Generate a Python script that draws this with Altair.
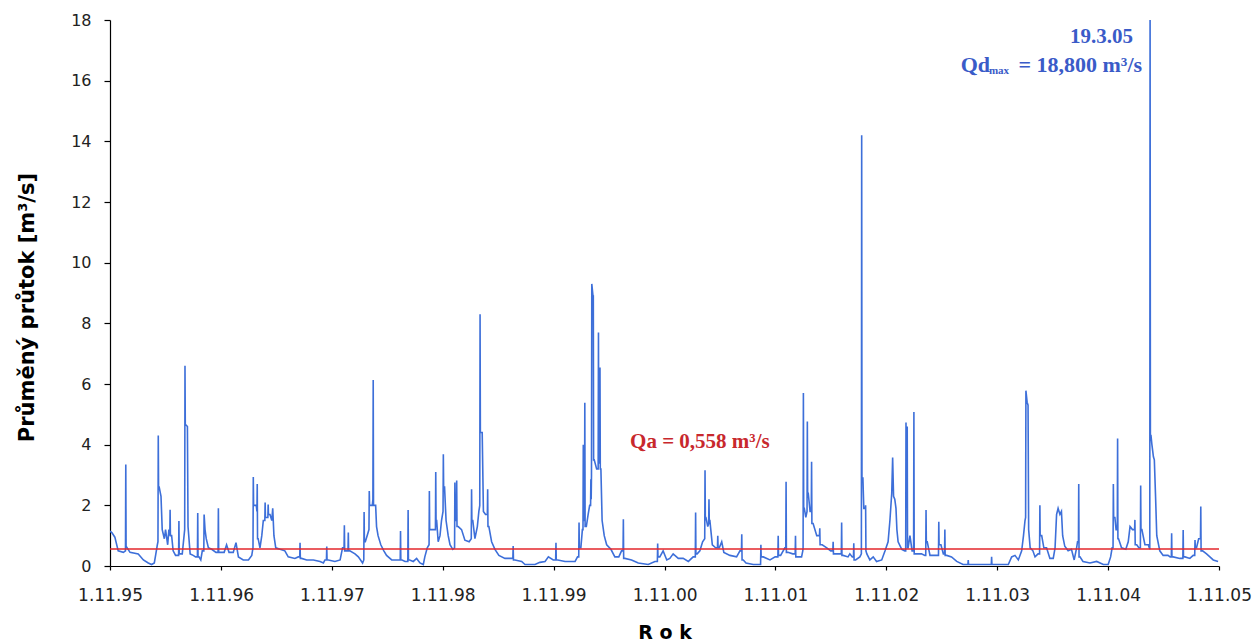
import altair as alt
import pandas as pd

START = pd.Timestamp("1995-11-01")

# (day since 1.11.1995, daily mean flow m3/s), per hydrological year
hy1996 = [(0,1.15),(6,1.1),(16,0.95),(27,0.5),(44,0.45),(51,0.5),(52,3.35),(53,0.65),(66,0.45),(93,0.4),(110,0.2),(126,0.1),(137,0.05),(146,0.1),(151,0.4),(156,0.7),(158,0.8),(159,4.3),(160,2.6),(162,2.6),(168,2.3),(172,1.2),(179,0.9),(183,1.2),(190,0.7),(194,1.2),(197,1.0),(198,1.85),(199,1.0),(203,1.0),(208,0.5),(216,0.35),(226,0.35),(227,1.48),(228,0.4),(232,0.4),(238,0.4),(244,1.0),(246,1.2),(247,6.6),(248,4.67),(255,4.6),(257,1.3),(264,0.4),(274,0.35),(282,0.3),(288,0.3),(289,1.75),(290,0.3),(293,0.3),(299,0.2),(304,0.5),(309,0.5),(310,1.7),(313,1.2),(317,0.9),(324,0.6),(335,0.55),(349,0.45),(356,0.45),(357,1.9),(358,0.45),(362,0.45)]
hy1997 = [(376,0.45),(384,0.7),(392,0.45),(406,0.45),(415,0.77),(423,0.3),(439,0.2),(456,0.2),(467,0.35),(471,0.6),(472,2.93),(473,2.0),(478,2.0),(482,2.0),(484,1.8),(485,2.7),(486,0.9),(488,0.9),(494,0.6),(500,1.0),(505,1.5),(510,1.5),(511,2.09),(512,1.6),(516,1.6),(520,1.6),(521,2.03),(522,1.7),(527,1.7),(533,1.5),(536,1.9),(540,1.0),(546,0.6),(560,0.55),(576,0.5),(587,0.3),(609,0.25),(620,0.3),(625,0.3),(626,0.77),(627,0.25),(631,0.25),(648,0.2),(670,0.2),(692,0.15),(703,0.1),(708,0.2),(713,0.2),(714,0.64),(715,0.2),(719,0.2)]
hy1998 = [(741,0.15),(758,0.2),(766,0.6),(771,0.6),(772,1.34),(773,0.5),(776,0.5),(784,0.5),(785,1.1),(786,0.5),(790,0.5),(807,0.4),(818,0.3),(832,0.1),(836,0.2),(837,1.78),(838,0.8),(841,0.8),(847,1.0),(853,1.2),(854,2.47),(855,2.0),(860,2.0),(864,2.0),(866,2.2),(867,6.13),(868,2.0),(870,2.0),(875,2.0),(878,1.3),(883,1.0),(892,0.7),(902,0.5),(911,0.35),(928,0.2),(944,0.2),(953,0.2),(956,0.2),(957,1.15),(958,0.2),(962,0.2),(972,0.15),(981,0.15),(982,1.85),(983,0.2),(987,0.2),(999,0.15),(1010,0.25),(1021,0.1),(1032,0.05),(1037,0.3),(1045,0.6),(1051,0.7),(1052,2.47),(1053,1.2),(1056,1.2),(1065,1.2),(1072,1.2),(1073,3.1),(1074,1.5),(1076,1.5),(1081,0.8),(1087,1.0),(1092,1.5)]
hy1999 = [(1097,1.8),(1098,3.68),(1099,2.6),(1102,2.6),(1107,1.5),(1114,1.0),(1120,0.7),(1129,0.55),(1135,0.6),(1136,2.75),(1137,1.5),(1139,1.5),(1141,1.5),(1142,2.82),(1143,1.3),(1147,1.3),(1158,1.2),(1169,0.85),(1183,0.8),(1190,0.9),(1191,2.53),(1192,1.5),(1195,1.5),(1202,0.9),(1210,1.3),(1215,1.8),(1218,2.0),(1219,8.3),(1220,4.4),(1226,4.4),(1230,1.8),(1237,1.7),(1243,1.7),(1244,2.53),(1245,1.3),(1248,1.3),(1257,0.8),(1268,0.55),(1281,0.35),(1301,0.25),(1321,0.25),(1327,0.25),(1328,0.66),(1329,0.2),(1334,0.2),(1356,0.15),(1367,0.05),(1400,0.05),(1416,0.12),(1433,0.15),(1444,0.3),(1460,0.2)]
hy2000 = [(1468,0.2),(1469,0.77),(1470,0.2),(1475,0.2),(1499,0.15),(1532,0.15),(1540,0.3),(1544,0.3),(1545,1.43),(1546,0.6),(1551,0.6),(1556,1.2),(1558,1.2),(1559,4.0),(1560,1.5),(1563,1.5),(1564,5.38),(1565,1.3),(1569,1.3),(1575,1.7),(1580,2.0),(1583,2.0),(1584,2.86),(1585,2.2),(1586,3.0),(1587,9.3),(1591,8.9),(1592,8.9),(1593,3.5),(1595,3.5),(1603,3.2),(1608,3.2),(1609,7.7),(1610,3.4),(1611,3.4),(1613,3.4),(1614,6.54),(1615,3.2),(1617,3.2),(1621,1.5),(1628,1.0),(1636,0.7),(1650,0.55),(1663,0.3),(1676,0.3),(1685,0.5),(1690,0.5),(1691,1.54),(1692,0.25),(1696,0.25),(1718,0.2),(1740,0.1),(1773,0.05),(1795,0.15),(1803,0.15),(1804,0.74),(1805,0.3),(1811,0.3),(1822,0.5)]
hy2001 = [(1834,0.2),(1844,0.25),(1855,0.4),(1872,0.25),(1888,0.25),(1905,0.15),(1921,0.3),(1928,0.3),(1929,1.76),(1930,0.4),(1934,0.4),(1943,0.5),(1952,0.8),(1959,0.9),(1960,3.16),(1961,1.6),(1963,1.6),(1969,1.3),(1972,1.4),(1973,2.2),(1974,1.5),(1976,1.5),(1979,1.2),(1984,0.7),(1995,0.6),(2001,0.6),(2002,1.0),(2003,0.6),(2007,0.6),(2015,0.8),(2022,0.45),(2042,0.35),(2064,0.3),(2075,0.5),(2080,0.5),(2081,1.05),(2082,0.2),(2086,0.2),(2095,0.1),(2119,0.05),(2139,0.05),(2143,0.05),(2144,0.7),(2145,0.3),(2152,0.3),(2174,0.2),(2191,0.3)]
hy2002 = [(2196,0.3),(2200,0.3),(2201,1.0),(2202,0.35),(2209,0.35),(2223,0.6),(2226,0.6),(2227,2.78),(2228,0.45),(2233,0.45),(2249,0.4),(2257,0.4),(2258,1.0),(2259,0.3),(2264,0.3),(2278,0.3),(2282,0.5),(2283,0.6),(2284,5.7),(2285,1.9),(2287,1.9),(2292,1.6),(2296,1.8),(2297,4.76),(2298,2.4),(2300,2.4),(2306,1.8),(2310,1.8),(2311,3.44),(2312,1.4),(2316,1.4),(2328,1.0),(2337,1.0),(2338,1.24),(2339,0.7),(2346,0.7),(2361,0.6),(2374,0.5),(2381,0.5),(2382,0.8),(2383,0.4),(2388,0.4),(2404,0.4),(2409,0.4),(2410,1.43),(2411,0.35),(2415,0.35),(2431,0.3),(2437,0.4),(2445,0.3),(2449,0.3),(2450,0.75),(2451,0.2),(2456,0.2),(2470,0.3),(2475,0.4),(2476,14.2),(2477,2.9),(2480,2.9),(2483,1.9),(2488,1.9),(2489,2.0),(2490,0.5),(2493,0.4),(2503,0.2),(2514,0.3),(2525,0.15),(2542,0.2),(2553,0.5)]
hy2003 = [(2563,0.8),(2569,1.5),(2575,2.4),(2578,3.58),(2581,2.3),(2585,2.2),(2589,1.9),(2592,1.2),(2596,0.8),(2608,0.55),(2618,0.5),(2621,0.5),(2622,4.73),(2623,2.0),(2625,2.0),(2626,4.6),(2627,0.6),(2629,0.6),(2635,1.0),(2642,0.5),(2647,0.5),(2648,5.08),(2649,0.4),(2652,0.4),(2673,0.4),(2684,0.35),(2687,0.35),(2688,1.85),(2689,0.8),(2692,0.8),(2701,0.35),(2723,0.35),(2729,0.35),(2730,1.46),(2731,0.7),(2737,0.7),(2745,0.4),(2749,0.4),(2750,1.2),(2751,0.35),(2756,0.35),(2772,0.3),(2789,0.15),(2810,0.05),(2826,0.05),(2827,0.2),(2828,0.05),(2833,0.05),(2860,0.05),(2898,0.05),(2903,0.05),(2904,0.3),(2905,0.05),(2909,0.05)]
hy2004 = [(2959,0.05),(2970,0.3),(2981,0.35),(2992,0.2),(3003,0.5),(3009,1.0),(3014,1.5),(3016,1.6),(3017,5.78),(3021,5.4),(3024,5.3),(3026,1.2),(3031,0.6),(3040,0.5),(3047,0.3),(3057,0.4),(3062,0.4),(3063,2.0),(3064,1.0),(3069,1.0),(3076,0.6),(3085,0.6),(3096,0.25),(3107,0.25),(3113,0.6),(3118,1.7),(3123,1.9),(3129,1.7),(3134,1.8),(3138,1.0),(3145,0.65),(3156,0.5),(3167,0.55),(3176,0.2),(3184,0.6),(3187,0.8),(3190,0.8),(3191,2.7),(3192,0.3),(3195,0.3),(3205,0.15),(3228,0.1),(3250,0.15),(3272,0.05),(3288,0.05)]
hy2005 = [(3296,0.3),(3301,0.6),(3304,0.6),(3305,2.7),(3306,1.6),(3310,1.6),(3314,1.2),(3318,1.2),(3319,4.2),(3320,0.9),(3322,0.9),(3332,0.6),(3346,0.55),(3354,0.8),(3360,1.3),(3368,1.2),(3375,1.2),(3376,1.52),(3377,0.7),(3382,0.7),(3389,0.6),(3394,0.6),(3395,2.65),(3396,1.2),(3399,1.2),(3409,0.7),(3420,0.7),(3425,0.55),(3426,18.8),(3427,4.3),(3429,4.3),(3432,4.0),(3437,3.6),(3440,3.5),(3444,2.3),(3448,1.0),(3458,0.5),(3469,0.35),(3485,0.35),(3492,0.3),(3496,0.3),(3497,1.08),(3498,0.3),(3502,0.3),(3524,0.25),(3534,0.25),(3535,1.19),(3536,0.3),(3541,0.3),(3557,0.25),(3568,0.35),(3573,0.35),(3574,0.86),(3575,0.6),(3579,0.6),(3586,0.9),(3592,0.9),(3593,1.96),(3594,0.5),(3599,0.5),(3612,0.4),(3623,0.3),(3634,0.2),(3650,0.15)]

QA = 0.558
QMAX_DATE = "2005-03-19"
tick_years = list(range(1995, 2006))
y_ticks = list(range(0, 19, 2))

segments = [hy1996, hy1997, hy1998, hy1999, hy2000, hy2001, hy2002, hy2003, hy2004, hy2005]
rows = [((START + pd.Timedelta(days=d)).strftime("%Y-%m-%d"), v) for seg in segments for d, v in seg]
df = pd.DataFrame(rows, columns=["date", "flow"])

BLUE = "#3d6fd9"
TXT_BLUE = "#3a5bc8"
RED = "#e3262b"
TXT_RED = "#c8282d"

x_scale = alt.Scale(type="utc", domain=[alt.DateTime(year=1995, month=11, date=1, utc=True),
                                        alt.DateTime(year=2005, month=11, date=1, utc=True)])
y_scale = alt.Scale(domain=[0, 18], nice=False, zero=True)

x_axis = alt.Axis(values=[alt.DateTime(year=y, month=11, date=1, utc=True) for y in tick_years],
                  format="%-d.%-m.%y", grid=False, domainColor="#000", domainWidth=1.2,
                  tickColor="#000", tickSize=4, tickWidth=1.2, labelFont="DejaVu Sans",
                  labelFontSize=17, labelColor="#222", labelPadding=17, labelFlush=False,
                  labelOverlap=False, titleFont="DejaVu Sans", titleFontSize=19,
                  titleFontWeight="bold", titleColor="#000", titleBaseline="alphabetic", titleY=72)
y_axis = alt.Axis(values=y_ticks, grid=False, domainColor="#000", domainWidth=1.2,
                  tickColor="#000", tickSize=6, tickWidth=1.2, labelFont="DejaVu Sans",
                  labelFontSize=16, labelColor="#222", labelPadding=13,
                  titleFont="DejaVu Sans", titleFontSize=21, titleFontWeight="bold",
                  titleColor="#000", titleX=-83, titleY=287, titleBaseline="middle", titleAngle=270)

line = alt.Chart(df).mark_line(color=BLUE, strokeWidth=1.6, clip=True).encode(
    x=alt.X("date:T", scale=x_scale, axis=x_axis, title="R o k"),
    y=alt.Y("flow:Q", scale=y_scale, axis=y_axis, title="Průměný průtok [m³/s]"),
)

qa_df = pd.DataFrame({"flow": [QA]})
rule = alt.Chart(qa_df).mark_rule(color=RED, strokeWidth=1.5).encode(y="flow:Q")

red_df = pd.DataFrame({"date": ["2001-02-25"], "flow": [3.9], "label": ["Qa = 0,558 m³/s"]})
red_txt = alt.Chart(red_df).mark_text(font="Liberation Serif", fontWeight="bold", fontSize=21,
                                      color=TXT_RED, align="center", baseline="alphabetic").encode(
    x="date:T", y="flow:Q", text="label:N")

date_df = pd.DataFrame({"date": [QMAX_DATE], "flow": [17.25], "label": ["19.3.05"]})
date_txt = alt.Chart(date_df).mark_text(font="Liberation Serif", fontWeight="bold", fontSize=21,
                                        color=TXT_BLUE, align="right", baseline="alphabetic", dx=-17).encode(
    x="date:T", y="flow:Q", text="label:N")

qd_df = pd.DataFrame({"date": [QMAX_DATE], "flow": [16.3]})
qd_main = alt.Chart(qd_df).mark_text(font="Liberation Serif", fontWeight="bold", fontSize=22,
                                     color=TXT_BLUE, align="right", baseline="alphabetic", dx=-8).encode(
    x="date:T", y="flow:Q", text=alt.value("= 18,800 m³/s"))
qd_sub = alt.Chart(qd_df).mark_text(font="Liberation Serif", fontWeight="bold", fontSize=11,
                                    color=TXT_BLUE, align="right", baseline="alphabetic", dx=-141, dy=2).encode(
    x="date:T", y="flow:Q", text=alt.value("max"))
qd_sym = alt.Chart(qd_df).mark_text(font="Liberation Serif", fontWeight="bold", fontSize=22,
                                    color=TXT_BLUE, align="right", baseline="alphabetic", dx=-160).encode(
    x="date:T", y="flow:Q", text=alt.value("Qd"))

chart = alt.layer(line, rule, red_txt, date_txt, qd_main, qd_sub, qd_sym).properties(
    width=1109, height=546,
    autosize=alt.AutoSizeParams(type="none"),
    padding={"left": 110, "top": 20, "right": 39, "bottom": 75},
    background="white",
).configure_view(stroke=None)

chart.save("out.html", embed_options={"renderer": "svg", "actions": False})
